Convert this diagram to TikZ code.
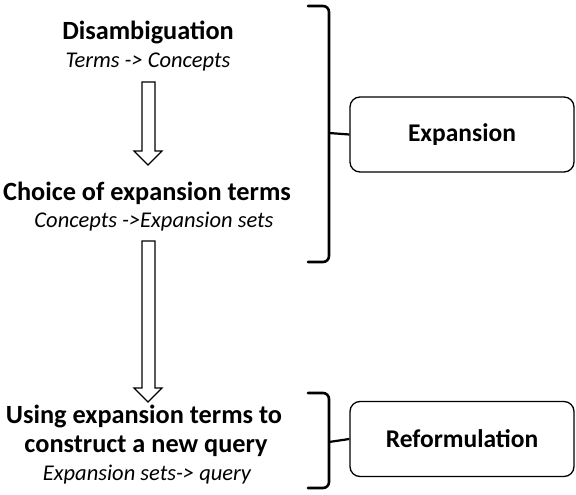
\documentclass[tikz,border=0pt]{standalone}
\usepackage{fontspec}
\setmainfont{Carlito}
\begin{document}
\begin{tikzpicture}[x=1pt,y=-1pt,
  head/.style={font=\fontsize{26.3}{30}\selectfont\bfseries, anchor=base, inner sep=0pt},
  sub/.style={font=\fontsize{22.5}{26}\selectfont\itshape, anchor=base, inner sep=0pt},
  label/.style={font=\fontsize{25.5}{30}\selectfont\bfseries, inner sep=0pt},
  box/.style={draw=black, line width=1.3pt, rounded corners=10pt, minimum width=224pt, minimum height=75pt, inner sep=0pt},
  brace/.style={line width=2.6pt, line cap=round, rounded corners=6pt},
  blockarrow/.style={draw=black, line width=1.1pt, fill=white, line join=miter}]
\useasboundingbox (0,0) rectangle (576,495);
% texts
\node[head] (dis) at (148,40) {Disambiguation};
\node[sub] (dis2) at (148,68) {Terms -> Concepts};
\node[head] (cho) at (147,200) {Choice of expansion terms};
\node[sub] (cho2) at (154,227) {Concepts ->Expansion sets};
\node[head] (use1) at (144,423) {Using expansion terms to};
\node[head] (use2) at (146,452) {construct a new query};
\node[sub] (use3) at (147,480) {Expansion sets-> query};
% boxes
\node[box] (exp) at (462,134.5) {};
\node[label] at (exp.center) {Expansion};
\node[box] (ref) at (462,439) {};
\node[label] at (ref.center) {Reformulation};
% block arrows
\draw[blockarrow] (142,82) -- (155,82) -- (155,151) -- (162,151) -- (148,165) -- (134,151) -- (142,151) -- cycle;
\draw[blockarrow] (142,241) -- (155,241) -- (155,388) -- (162,388) -- (148,402) -- (134,388) -- (142,388) -- cycle;
% braces
\draw[brace] (308,6) -- (329,6) -- (329,262) -- (308,262);
\coordinate (b1) at (329,133);
\draw[line width=2.2pt] (b1) -- (exp.west);
\draw[brace] (308,393) -- (329,393) -- (329,488) -- (308,488);
\coordinate (b2) at (329,442);
\draw[line width=2.2pt] (b2) -- (ref.west);
\end{tikzpicture}
\end{document}
